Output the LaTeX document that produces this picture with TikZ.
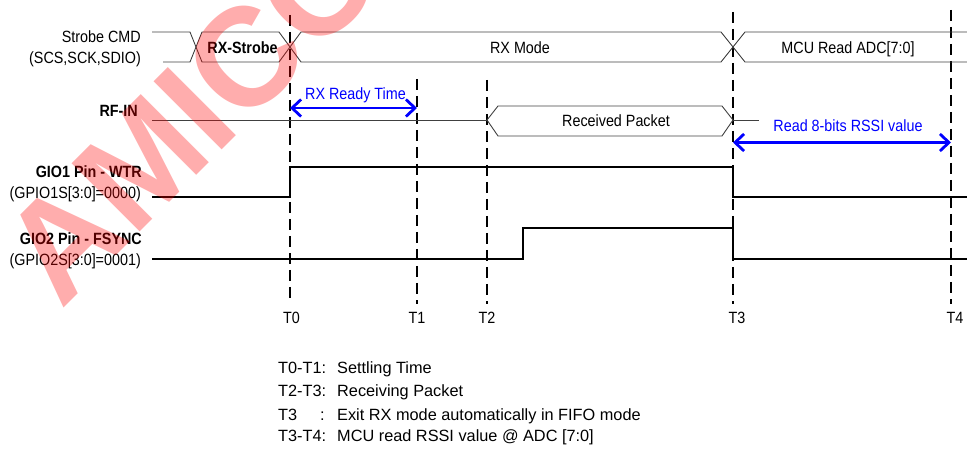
\documentclass[tikz,border=0pt]{standalone}
\usepackage{fontspec}
\setmainfont{Liberation Sans}
\newfontfamily\narrowsf{Liberation Sans}[FakeStretch=0.88]
\usetikzlibrary{arrows.meta}

\begin{document}
\begin{tikzpicture}[x=1pt, y=-1pt,
  bus/.style={draw=black!75, line width=0.9pt},
  wave/.style={line width=2.6pt, line join=miter},
  tline/.style={line width=1.8pt, dash pattern=on 11pt off 6pt},
  span/.style={blue, line width=2.8pt,
    {Straight Barb[length=9pt,width=17pt]}-{Straight Barb[length=9pt,width=17pt]}},
  lbl/.style={font=\fontsize{16.3}{18}\narrowsf, inner sep=0pt},
  lblb/.style={font=\fontsize{16.3}{18}\narrowsf\bfseries, inner sep=0pt},
  leg/.style={font=\fontsize{16.3}{18}\selectfont, inner sep=0pt, anchor=base west}]
  \useasboundingbox (0,0) rectangle (967,449);

  % time markers
  \foreach \n/\x/\y/\lx in {0/290/15/291.5, 1/417/79/417, 2/487/80/487, 3/733/12/737, 4/951/10/955} {
    \coordinate (T\n) at (\x,\y);
    \draw[tline] (T\n) -- (\x,304);
    \node[lbl, anchor=base] (lT\n) at (\lx,323.3) {T\n};
  }

  % signal names
  \node[lbl, anchor=base east] (cmd) at (141,42.5) {Strobe CMD};
  \node[lbl, anchor=base east] (cmdpins) at (141,64) {(SCS,SCK,SDIO)};
  \node[lblb, anchor=base east] (rfin) at (138,116.5) {RF-IN};
  \node[lblb, anchor=base east] (gio1) at (142,177.5) {GIO1 Pin - WTR};
  \node[lbl, anchor=base east] (gio1cfg) at (141,199) {(GPIO1S[3:0]=0000)};
  \node[lblb, anchor=base east] (gio2) at (142,245) {GIO2 Pin - FSYNC};
  \node[lbl, anchor=base east] (gio2cfg) at (141,265.5) {(GPIO2S[3:0]=0001)};

  % strobe command bus
  \draw[bus] (152,32) -- (190,32) -- (202,62) -- (279,62) -- (301,32) -- (721,32) -- (745,62) -- (967,62);
  \draw[bus] (163,62) -- (190,62) -- (202,32) -- (279,32) -- (301,62) -- (721,62) -- (745,32) -- (967,32);
  \node[lblb, anchor=base] (rxstb) at (242.5,54) {RX-Strobe};
  \node[lbl, anchor=base] (rxmode) at (520,54) {RX Mode};
  \node[lbl, anchor=base] (mcuadc) at (848,54) {MCU Read ADC[7:0]};

  % RF input
  \draw[bus] (152,120) -- (487,120);
  \draw[bus] (487,120) -- (498,106) -- (722,106) -- (733,120) -- (722,136) -- (498,136) -- cycle;
  \draw[bus] (733,120) -- (759,120);
  \node[lbl, anchor=base] (pkt) at (616,126.5) {Received Packet};

  % GIO pins
  \draw[wave] (152,197) -- (290,197) -- (290,167) -- (733,167) -- (733,197) -- (967,197);
  \draw[wave] (152,259) -- (523,259) -- (523,228) -- (733,228) -- (733,259) -- (967,259);

  % intervals
  \draw[span] (T0 |- 0,108) -- (T1 |- 0,108);
  \node[lbl, anchor=base, text=blue] (rdy) at (355.5,100) {RX Ready Time};
  \draw[span] (T3 |- 0,142.5) -- (T4 |- 0,142.5);
  \node[lbl, anchor=base, text=blue] (rssi) at (848,131.5) {Read 8-bits RSSI value};

  % legend
  \node[leg] (k1) at (278,373.3) {T0-T1:};
  \node[leg] (k1t) at (337,373.3) {Settling Time};
  \node[leg] (k2) at (278,396.7) {T2-T3:};
  \node[leg] (k2t) at (337,396.7) {Receiving Packet};
  \node[leg] (k3) at (278,420) {T3};
  \node[leg] (k3c) at (320,420) {:};
  \node[leg] (k3t) at (337,420) {Exit RX mode automatically in FIFO mode};
  \node[leg] (k4) at (278,441.7) {T3-T4:};
  \node[leg] (k4t) at (337,441.7) {MCU read RSSI value @ ADC [7:0]};

  % watermark
  \node[font=\fontsize{140}{140}\selectfont\bfseries, text=red, opacity=0.32, text opacity=0.32,
    rotate=45, inner sep=0pt] (wm) at (190,114) {AMICC};
\end{tikzpicture}
\end{document}
